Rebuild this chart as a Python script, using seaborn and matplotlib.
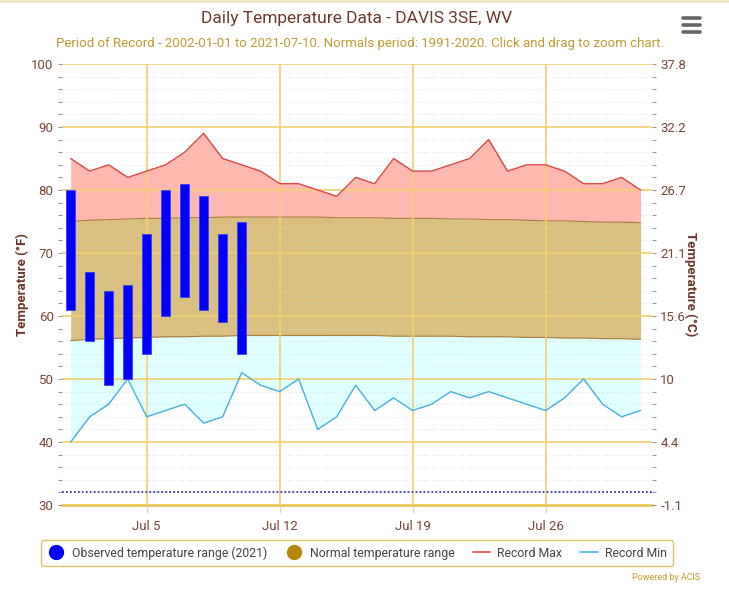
import matplotlib

matplotlib.use("Agg")
import matplotlib.dates as mdates
import matplotlib.pyplot as plt
import numpy as np
import pandas as pd
import seaborn as sns
from matplotlib.lines import Line2D

# July 2021, DAVIS 3SE, WV
days = pd.date_range("2021-07-01", "2021-07-31", freq="D")
record_max = [85, 83, 84, 82, 83, 84, 86, 89, 85, 84, 83, 81, 81, 80, 79, 82,
              81, 85, 83, 83, 84, 85, 88, 83, 84, 84, 83, 81, 81, 82, 80]
record_min = [40, 44, 46, 50, 44, 45, 46, 43, 44, 51, 49, 48, 50, 42, 44, 49,
              45, 47, 45, 46, 48, 47, 48, 47, 46, 45, 47, 50, 46, 44, 45]
normal_high = [75.0, 75.2, 75.3, 75.4, 75.5, 75.5, 75.6, 75.6, 75.7, 75.7, 75.7,
               75.7, 75.7, 75.7, 75.6, 75.6, 75.6, 75.5, 75.5, 75.5, 75.4, 75.4,
               75.3, 75.3, 75.2, 75.1, 75.1, 75.0, 74.9, 74.9, 74.8]
normal_low = [56.1, 56.3, 56.4, 56.5, 56.6, 56.7, 56.7, 56.8, 56.8, 56.9, 56.9,
              56.9, 56.9, 56.9, 56.9, 56.9, 56.9, 56.8, 56.8, 56.8, 56.8, 56.7,
              56.7, 56.7, 56.6, 56.6, 56.5, 56.5, 56.4, 56.4, 56.3]

obs_days = pd.date_range("2021-07-01", "2021-07-10", freq="D")
obs_high = [80, 67, 64, 65, 73, 80, 81, 79, 73, 75]
obs_low = [61, 56, 49, 50, 54, 60, 63, 61, 59, 54]

freezing = 32
f_ticks = [30, 40, 50, 60, 70, 80, 90, 100]

df = pd.DataFrame({
    "date": days,
    "record_max": record_max,
    "record_min": record_min,
    "normal_high": normal_high,
    "normal_low": normal_low,
})

sns.set_theme(style="white")
plt.rcParams["font.family"] = ["Roboto", "DejaVu Sans"]

BROWN = "#7a4636"
GOLD = "#f2d06e"

fig = plt.figure(figsize=(7.29, 5.95), dpi=100)
ax = fig.add_axes([62 / 729, 1 - 505 / 595, 590 / 729, 441 / 595])

ax.fill_between(df["date"], df["normal_high"], df["record_max"], color="#ffb8b0", lw=0, zorder=1)
ax.fill_between(df["date"], df["normal_low"], df["normal_high"], color="#d9bf80", lw=0, zorder=1)
ax.fill_between(df["date"], df["record_min"], df["normal_low"], color="#e0ffff", lw=0, zorder=1)

sns.lineplot(data=df, x="date", y="normal_high", color="#a87d3c", lw=0.8, ax=ax, zorder=2)
sns.lineplot(data=df, x="date", y="normal_low", color="#a87d3c", lw=0.8, ax=ax, zorder=2)
sns.lineplot(data=df, x="date", y="record_max", color="#d9473f", lw=1.0, ax=ax, zorder=3)
sns.lineplot(data=df, x="date", y="record_min", color="#45b0e0", lw=1.0, ax=ax, zorder=3)

heights = np.array(obs_high) - np.array(obs_low)
ax.bar(obs_days, heights, bottom=obs_low, width=0.5, color="#0000ff",
       edgecolor="#3c3cff", lw=0.6, zorder=4)

ax.axhline(freezing, color="#3a3aa8", lw=1.3, ls=(0, (1, 1.2)), zorder=3)

start = days[0]
ax.set_xlim(start - pd.Timedelta(hours=11), start + pd.Timedelta(days=30.6))
ax.set_ylim(30, 100)

ax.set_yticks(f_ticks)
ax.set_yticks(range(30, 101, 2), minor=True)
ax.set_yticklabels([str(t) for t in f_ticks])
ax.xaxis.set_major_locator(mdates.DayLocator(bymonthday=[5, 12, 19, 26]))
ax.xaxis.set_major_formatter(mdates.DateFormatter("%b %-d"))

ax.set_axisbelow(False)
ax.yaxis.grid(True, which="major", color=GOLD, lw=1.2, zorder=2.5)
ax.yaxis.grid(True, which="minor", color="#d6d6d6", lw=0.7, ls=(0, (1, 3)), zorder=2.5)
ax.xaxis.grid(True, which="major", color=GOLD, lw=1.2, zorder=2.5)

for side in ["top", "left", "right"]:
    ax.spines[side].set_visible(False)
ax.spines["bottom"].set_color("#e6be4a")
ax.spines["bottom"].set_linewidth(1.8)

ax.tick_params(axis="y", which="both", left=True, length=3, width=0.8, color="#9a9a9a",
               labelsize=9.5, labelcolor=BROWN, pad=3)
ax.tick_params(axis="x", which="major", bottom=True, length=6, width=0.8, color="#ccd6eb",
               labelsize=9.5, labelcolor=BROWN, pad=5)
ax.set_xlabel("")
ax.set_ylabel("Temperature (°F)", color="#6b3628", fontsize=9.5, fontweight="bold", labelpad=2)

ax2 = ax.twinx()
ax2.set_ylim(ax.get_ylim())
ax2.set_yticks(f_ticks)
ax2.set_yticks(range(30, 101, 2), minor=True)
c_labels = []
for t in f_ticks:
    c = (t - 32) * 5 / 9
    lab = f"{c:.1f}"
    c_labels.append(lab[:-2] if lab.endswith(".0") else lab)
ax2.set_yticklabels(c_labels)
ax2.tick_params(axis="y", which="both", right=True, length=3, width=0.8, color="#9a9a9a",
                labelsize=9.5, labelcolor=BROWN, pad=3)
for side in ["top", "left", "right", "bottom"]:
    ax2.spines[side].set_visible(False)
ax2.grid(False)
ax2.set_ylabel("Temperature (°C)", color="#6b3628", fontsize=9.5, fontweight="bold",
               rotation=270, labelpad=8)

fig.text(357 / 729, 1 - 19 / 595, "Daily Temperature Data - DAVIS 3SE, WV",
         ha="center", va="center", fontsize=12.5, color="#6b3a2c")
fig.text(360 / 729, 1 - 44 / 595,
         "Period of Record - 2002-01-01 to 2021-07-10. Normals period: 1991-2020. "
         "Click and drag to zoom chart.",
         ha="center", va="center", fontsize=9.5, color="#c09a32")

handles = [
    Line2D([], [], marker="o", ls="", color="#0000ff", markersize=10),
    Line2D([], [], marker="o", ls="", color="#b8860b", markersize=10),
    Line2D([], [], color="#e04848", lw=1.2),
    Line2D([], [], color="#45b0e0", lw=1.2),
]
labels = ["Observed temperature range (2021)", "Normal temperature range",
          "Record Max", "Record Min"]
leg = fig.legend(handles, labels, loc="center", bbox_to_anchor=(357 / 729, 1 - 553 / 595),
                 ncol=4, frameon=True, fancybox=True, fontsize=8.8, handlelength=1.4,
                 handletextpad=0.6, columnspacing=1.5, borderpad=0.5, labelcolor="#444444")
leg.get_frame().set_edgecolor("#d9b44a")
leg.get_frame().set_linewidth(1.0)

# menu icon
for y in [18, 25, 32]:
    fig.add_artist(Line2D([683 / 729, 700 / 729], [1 - y / 595, 1 - y / 595],
                          color="#666666", lw=2.6, solid_capstyle="round"))
fig.add_artist(Line2D([0, 1], [0.998, 0.998], color="#efe3bd", lw=2))

fig.text(700 / 729, 1 - 578 / 595, "Powered by ACIS", ha="right", va="center",
         fontsize=6.5, color="#c89a2a")

fig.savefig("out.png", dpi=100)
